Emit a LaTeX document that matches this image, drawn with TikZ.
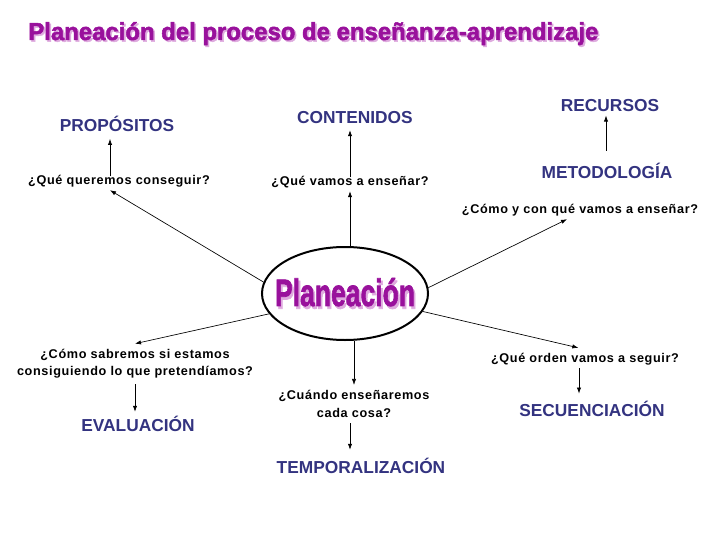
\documentclass[tikz,border=0pt]{standalone}
\usepackage{fontspec}
\setmainfont{Liberation Sans}
\newfontfamily\qfont[LetterSpace=5]{Liberation Sans}
\newfontfamily\tfont[BoldFeatures={FakeBold=2}]{Liberation Sans}
\usetikzlibrary{shapes.geometric,arrows.meta}
\definecolor{morado}{RGB}{153,17,156}
\definecolor{sombra}{RGB}{222,170,222}
\definecolor{azul}{RGB}{51,51,128}
\newcommand{\sombreado}[1]{\makebox[0pt][l]{\hspace{0.07em}\raisebox{-0.07em}{\textcolor{sombra}{#1}}}\textcolor{morado}{#1}}
\begin{document}
\begin{tikzpicture}[x=0.75pt,y=-0.75pt,
  q/.style={font=\qfont\bfseries\fontsize{9.5}{13}\selectfont, inner xsep=1pt, inner ysep=4pt, text height=6.8pt, text depth=0pt},
  qq/.style={font=\qfont\bfseries\fontsize{9.5}{13}\selectfont, inner xsep=1pt, inner ysep=4pt, align=center},
  t/.style={font=\bfseries\fontsize{13}{15}\selectfont, text=azul, inner sep=1pt, text height=9.3pt, text depth=0pt},
  every path/.style={line width=0.5pt},
  >={Latex[length=4.5pt,width=3.2pt]}]
  \useasboundingbox (0,0) rectangle (728,546);

  \node[anchor=base west, inner sep=0pt] (titulo) at (28,40)
    {\resizebox{427.5pt}{13.5pt}{\tfont\bfseries\sombreado{Planeación del proceso de enseñanza-aprendizaje}}};

  \node[ellipse, draw, line width=1.5pt, minimum width=124.5pt, minimum height=69.75pt,
    inner xsep=-9pt, inner ysep=0pt] (plan) at (345,293.5)
    {\resizebox{105pt}{21pt}{\tfont\bfseries\sombreado{Planeación}}};

  \node[t] (prop) at (117,125) {PROPÓSITOS};
  \node[t] (cont) at (355,117) {CONTENIDOS};
  \node[t] (rec) at (610,105) {RECURSOS};
  \node[t] (met) at (607,172) {METODOLOGÍA};
  \node[t] (eval) at (138,425) {EVALUACIÓN};
  \node[t] (temp) at (361,467) {TEMPORALIZACIÓN};
  \node[t] (sec) at (592,410) {SECUENCIACIÓN};

  \node[q] (q1) at (119,180) {¿Qué queremos conseguir?};
  \node[q] (q2) at (350,181) {¿Qué vamos a enseñar?};
  \node[q] (q3) at (580,209) {¿Cómo y con qué vamos a enseñar?};
  \node[qq] (q4) at (135,364) {¿Cómo sabremos si estamos\\consiguiendo lo que pretendíamos?};
  \node[qq] (q5) at (354,404) {¿Cuándo enseñaremos\\cada cosa?};
  \node[q] (q6) at (585,358) {¿Qué orden vamos a seguir?};

  % desde la elipse
  \draw[->] (plan.172) -- ([xshift=-6.75pt]q1.south);
  \draw[->] (q2.south |- plan.north) -- (q2.south);
  \draw[->] (plan.4) -- ([xshift=-9.75pt]q3.south);
  \draw[->] (plan.195) -- (q4.north);
  \draw[->] (q5.north |- plan.south) -- (q5.north);
  \draw[->] (plan.347) -- ([xshift=-5pt]q6.north);

  % de la pregunta al tema
  \draw[->, shorten <=-5pt, shorten >=4.5pt] ([xshift=-6.75pt]q1.north) -- ([xshift=-6.75pt]q1.north |- prop.south);
  \draw[->, shorten <=-5pt, shorten >=4pt] (q2.north) -- (q2.north |- cont.south);
  \draw[->, shorten <=10pt, shorten >=2pt] ([xshift=-0.75pt]met.north) -- ([xshift=-0.75pt]met.north |- rec.south);
  \draw[->, shorten >=4pt] (q4.south) -- (q4.south |- eval.north);
  \draw[->, shorten >=7pt] ([xshift=-3pt]q5.south) -- ([xshift=-3pt]q5.south |- temp.north);
  \draw[->, shorten >=6.4pt] ([xshift=-4.5pt]q6.south) -- ([xshift=-4.5pt]q6.south |- sec.north);
\end{tikzpicture}
\end{document}
